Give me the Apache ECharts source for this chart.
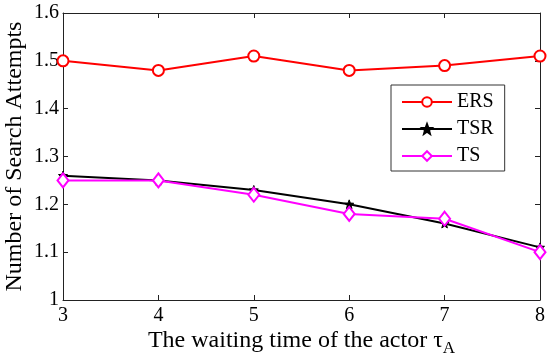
<!DOCTYPE html>
<html><head><meta charset="utf-8">
<script src="https://cdn.jsdelivr.net/npm/echarts@6/dist/echarts.min.js"></script>
<style>html,body{margin:0;padding:0;background:#fff}#c{width:550px;height:360px}</style>
</head><body><div id="c"></div>
<script>
const xValues = [3, 4, 5, 6, 7, 8];
const ers = [1.50, 1.48, 1.51, 1.48, 1.49, 1.51];
const tsr = [1.26, 1.25, 1.23, 1.20, 1.16, 1.11];
const ts = [1.25, 1.25, 1.22, 1.18, 1.17, 1.10];
const names = ['ERS', 'TSR', 'TS'];
const font = 'Liberation Serif';
const chart = echarts.init(document.getElementById('c'));
const pair = a => xValues.map((x, i) => [x, a[i]]);
const starPath = 'path://M0,-10L2.5,-3.5L9.5,-3.1L4,1.3L5.9,8.1L0,4.2L-5.9,8.1L-4,1.3L-9.5,-3.1L-2.5,-3.5Z';
const axisLine = {show: true, lineStyle: {color: '#222', width: 1}};
chart.setOption({
  animation: false,
  grid: {left: 63, right: 10, top: 13, bottom: 60, containLabel: false, outerBoundsMode: 'none'},
  legend: {
    orient: 'vertical', left: 391, top: 85,
    data: names,
    borderColor: '#333', borderWidth: 1, padding: [7, 11, 5, 10],
    itemWidth: 50, itemHeight: 12, itemGap: 7,
    textStyle: {fontFamily: font, fontSize: 20, color: '#000', width: 50}
  },
  xAxis: [{
    type: 'value', min: 3, max: 8, interval: 1, position: 'bottom',
    axisLine: axisLine, axisTick: {inside: true, length: 5, lineStyle: {color: '#222'}},
    splitLine: {show: false},
    axisLabel: {fontFamily: font, fontSize: 20, color: '#000', margin: 6},
    name: '{a|The waiting time of the actor τ}{s|A}', nameLocation: 'middle', nameGap: 24,
    nameMoveOverlap: false,
    nameTextStyle: {rich: {
      a: {fontFamily: font, fontSize: 24, color: '#000'},
      s: {fontFamily: font, fontSize: 17, color: '#000', verticalAlign: 'bottom', padding: [16, 0, 0, 0]}
    }}
  }, {
    type: 'value', min: 3, max: 8, interval: 1, position: 'top',
    axisLine: axisLine, axisTick: {inside: true, length: 5, lineStyle: {color: '#222'}},
    splitLine: {show: false}, axisLabel: {show: false}
  }],
  yAxis: [{
    type: 'value', min: 1, max: 1.6, interval: 0.1, position: 'left',
    axisLine: axisLine, axisTick: {inside: true, length: 5, lineStyle: {color: '#222'}},
    splitLine: {show: false},
    axisLabel: {fontFamily: font, fontSize: 20, color: '#000', margin: 4,
      formatter: v => (Math.abs(v - 1) < 1e-9 ? '1' : v.toFixed(1))},
    name: 'Number of Search Attempts', nameLocation: 'middle', nameGap: 36,
    nameMoveOverlap: false,
    nameTextStyle: {fontFamily: font, fontSize: 24, color: '#000'}
  }, {
    type: 'value', min: 1, max: 1.6, interval: 0.1, position: 'right',
    axisLine: axisLine, axisTick: {inside: true, length: 5, lineStyle: {color: '#222'}},
    splitLine: {show: false}, axisLabel: {show: false}
  }],
  series: [{
    name: 'ERS', type: 'line', data: pair(ers),
    symbol: 'circle', symbolSize: 11,
    lineStyle: {color: '#ff0000', width: 2}, itemStyle: {color: '#fff', borderColor: '#ff0000', borderWidth: 2}
  }, {
    name: 'TSR', type: 'line', data: pair(tsr),
    symbol: starPath, symbolSize: 9,
    lineStyle: {color: '#000', width: 2}, itemStyle: {color: '#000', borderColor: '#000', borderWidth: 1}
  }, {
    name: 'TS', type: 'line', data: pair(ts),
    symbol: 'diamond', symbolSize: [11, 14],
    lineStyle: {color: '#ff00ff', width: 2}, itemStyle: {color: '#fff', borderColor: '#ff00ff', borderWidth: 2}
  }]
});
</script></body></html>
